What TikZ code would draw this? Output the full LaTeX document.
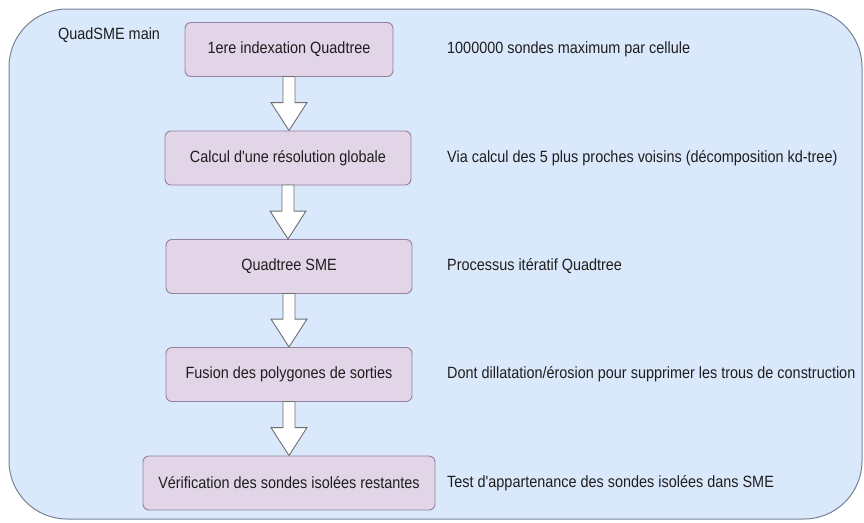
\documentclass[tikz,border=0pt]{standalone}
\usepackage{fontspec}
\setmainfont{Liberation Sans}[FakeStretch=0.885, Ligatures=TeXOff]
\usetikzlibrary{calc}
\definecolor{outerfill}{HTML}{DAE8FC}
\definecolor{outerline}{RGB}{120,130,150}
\definecolor{boxfill}{HTML}{E1D5E7}
\definecolor{boxline}{RGB}{150,128,160}
\definecolor{arrowline}{RGB}{110,110,110}
\definecolor{txt}{RGB}{30,30,30}
\tikzset{
  stepbox/.style={draw=boxline, fill=boxfill, line width=0.9pt, rounded corners=6pt,
    minimum height=54pt, inner sep=0pt, text=txt, font=\fontsize{16.3}{18}\selectfont},
  note/.style={anchor=west, inner sep=0pt, text=txt, font=\fontsize{16.3}{18}\selectfont},
  blockarrow/.style={draw=arrowline, fill=white, line width=0.9pt, line join=miter}
}
\newcommand{\flowarrow}[2]{%
  \path let \p1=(#1.south), \p2=(#2.north) in
    [blockarrow] (\x1-6pt,\y1+0.5pt) -- (\x1-6pt,\y2+28pt) -- (\x1-18pt,\y2+28pt)
    -- (\x1,\y2) -- (\x1+18pt,\y2+28pt) -- (\x1+6pt,\y2+28pt) -- (\x1+6pt,\y1+0.5pt) -- cycle;}
\begin{document}
\begin{tikzpicture}[x=1pt,y=-1pt]
\useasboundingbox (0,0) rectangle (864,522);
\fill[white] (0,0) rectangle (864,522);
\draw[draw=outerline, fill=outerfill, line width=1pt, rounded corners=58pt] (9,9) rectangle (862,519);
\node[note] (title) at (58,35) {QuadSME main};
\node[stepbox, minimum width=208pt] (b1) at (289,49.5) {1ere indexation Quadtree};
\node[stepbox, minimum width=246pt] (b2) at (288,158) {Calcul d'une résolution globale};
\node[stepbox, minimum width=246pt] (b3) at (289,266.5) {Quadtree SME};
\node[stepbox, minimum width=246pt] (b4) at (289,374.5) {Fusion des polygones de sorties};
\node[stepbox, minimum width=292pt] (b5) at (289,483) {Vérification des sondes isolées restantes};
\node[note] (n1) at (447,49.5) {1000000 sondes maximum par cellule};
\node[note] (n2) at (447,158) {Via calcul des 5 plus proches voisins (décomposition kd-tree)};
\node[note] (n3) at (447,266.5) {Processus itératif Quadtree};
\node[note] (n4) at (447,374.5) {Dont dillatation/érosion pour supprimer les trous de construction};
\node[note] (n5) at (447,483) {Test d'appartenance des sondes isolées dans SME};
\flowarrow{b1}{b2}
\flowarrow{b2}{b3}
\flowarrow{b3}{b4}
\flowarrow{b4}{b5}
\end{tikzpicture}
\end{document}
